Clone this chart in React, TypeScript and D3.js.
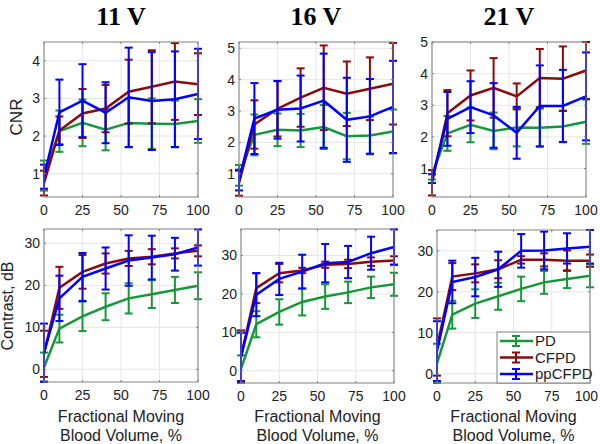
import React from "react";
import * as d3 from "d3";

// fractional moving blood volume, %
const fmbv = [0, 10, 25, 40, 55, 70, 85, 100];
const seriesNames = ["PD", "CFPD", "ppCFPD"];
const voltages = ["11 V", "16 V", "21 V"];
const xTicks = [0, 25, 50, 75, 100];

// CNR, 11 V
const cnr11PD = [0.95, 2.13, 2.35, 2.17, 2.35, 2.33, 2.32, 2.4];
const cnr11PDErr = [0.4, 0.55, 0.62, 0.55, 0.65, 0.67, 0.62, 0.58];
const cnr11CF = [0.75, 2.15, 2.6, 2.73, 3.18, 3.31, 3.45, 3.38];
const cnr11CFErr = [0.33, 0.37, 0.65, 0.63, 0.85, 0.97, 1.02, 0.82];
const cnr11PP = [0.92, 2.63, 2.94, 2.62, 3.03, 2.93, 2.98, 3.12];
const cnr11PPErr = [0.32, 0.87, 0.97, 0.81, 1.32, 1.3, 1.27, 1.2];

// CNR, 16 V
const cnr16PD = [0.95, 2.24, 2.4, 2.38, 2.49, 2.2, 2.22, 2.35];
const cnr16PDErr = [0.33, 0.65, 0.52, 0.53, 0.7, 0.74, 0.6, 0.7];
const cnr16CF = [0.7, 2.57, 3.07, 3.43, 3.74, 3.55, 3.71, 3.87];
const cnr16CFErr = [0.4, 0.77, 0.88, 0.93, 1.35, 1.03, 1.0, 1.3];
const cnr16PP = [0.8, 2.76, 3.04, 3.08, 3.33, 2.72, 2.83, 3.13];
const cnr16PPErr = [0.33, 1.13, 0.92, 1.05, 1.5, 1.34, 1.19, 1.47];

// CNR, 21 V
const cnr21PD = [0.8, 2.11, 2.38, 2.19, 2.3, 2.29, 2.33, 2.48];
const cnr21PDErr = [0.15, 0.55, 0.55, 0.58, 0.6, 0.6, 0.5, 0.7];
const cnr21CF = [0.55, 2.75, 3.31, 3.55, 3.28, 3.86, 3.84, 4.1];
const cnr21CFErr = [0.4, 0.73, 0.79, 0.94, 0.41, 0.92, 1.02, 0.9];
const cnr21PP = [0.68, 2.57, 2.94, 2.68, 2.13, 2.98, 2.98, 3.28];
const cnr21PPErr = [0.14, 0.85, 0.82, 1.02, 0.82, 1.28, 1.14, 1.39];

// Contrast (dB), 11 V
const con11PD = [0.5, 9.7, 12.6, 14.9, 16.9, 17.9, 18.9, 19.9];
const con11PDErr = [3.5, 3.3, 3.5, 3.2, 3.6, 3.3, 3.1, 3.2];
const con11CF = [3.7, 19.4, 23.2, 25.2, 26.4, 26.8, 27.6, 28.2];
const con11CFErr = [5.5, 5.0, 4.0, 2.4, 1.8, 1.8, 1.2, 1.3];
const con11PP = [4.0, 16.9, 22.0, 24.0, 25.9, 26.6, 27.4, 29.0];
const con11PPErr = [6.9, 5.4, 5.7, 5.0, 6.0, 5.2, 3.9, 4.3];

// Contrast (dB), 16 V
const con16PD = [0.5, 12.1, 15.3, 17.9, 19.3, 20.4, 21.7, 22.5];
const con16PDErr = [3.5, 3.4, 3.3, 3.5, 3.2, 2.8, 2.8, 3.0];
const con16CF = [3.7, 21.5, 25.4, 26.1, 27.6, 27.8, 28.4, 28.7];
const con16CFErr = [6.8, 3.9, 2.4, 0.7, 0.8, 1.1, 1.1, 1.1];
const con16PP = [3.6, 19.8, 23.9, 25.8, 28.0, 28.3, 30.6, 32.2];
const con16PPErr = [6.3, 5.6, 4.2, 4.4, 5.0, 4.2, 4.3, 4.6];

// Contrast (dB), 21 V
const con21PD = [2.5, 14.4, 17.1, 18.9, 20.7, 22.3, 23.1, 23.9];
const con21PDErr = [4.8, 3.4, 3.5, 3.3, 3.0, 2.8, 2.2, 2.8];
const con21CF = [6.5, 23.7, 24.5, 25.5, 27.8, 27.8, 27.6, 27.6];
const con21CFErr = [7.0, 3.3, 2.2, 2.2, 0.9, 1.6, 2.5, 1.5];
const con21PP = [5.5, 22.4, 23.6, 25.5, 30.0, 30.1, 30.6, 31.0];
const con21PPErr = [7.3, 5.2, 4.7, 4.3, 4.1, 4.6, 3.7, 4.1];

// y limits (axis tight) and ticks
const cnrLims = [[0.38, 4.5], [0.26, 5.2], [0.1, 5.0]];
const conLims = [[-3.0, 33.4], [-3.2, 36.9], [-2.3, 35.1]];
const cnrTicks = [[1, 2, 3, 4], [1, 2, 3, 4, 5], [1, 2, 3, 4, 5]];
const conTicks = [0, 10, 20, 30];

const colors = ["#17963a", "#8b0a0a", "#0000ff"];

// axes boxes in page pixels [left, right, top, bottom]
const boxes = [
  [44, 198, 42, 197], [239, 393, 42, 197], [432, 586, 42, 197],
  [44, 198, 229, 382], [241, 394, 229, 383], [437, 590, 230, 383],
];

const panels = [
  { lims: cnrLims[0], ticks: cnrTicks[0], s: [[cnr11PD, cnr11PDErr], [cnr11CF, cnr11CFErr], [cnr11PP, cnr11PPErr]] },
  { lims: cnrLims[1], ticks: cnrTicks[1], s: [[cnr16PD, cnr16PDErr], [cnr16CF, cnr16CFErr], [cnr16PP, cnr16PPErr]] },
  { lims: cnrLims[2], ticks: cnrTicks[2], s: [[cnr21PD, cnr21PDErr], [cnr21CF, cnr21CFErr], [cnr21PP, cnr21PPErr]] },
  { lims: conLims[0], ticks: conTicks, s: [[con11PD, con11PDErr], [con11CF, con11CFErr], [con11PP, con11PPErr]] },
  { lims: conLims[1], ticks: conTicks, s: [[con16PD, con16PDErr], [con16CF, con16CFErr], [con16PP, con16PPErr]] },
  { lims: conLims[2], ticks: conTicks, s: [[con21PD, con21PDErr], [con21CF, con21CFErr], [con21PP, con21PPErr]] },
];

const sans = "'Liberation Sans', Arial, sans-serif";
const serif = "'Liberation Serif', 'Times New Roman', serif";

const Panel = ({ p, box, idx }: any) => {
  const [x0, x1, y0, y1] = box;
  const x = d3.scaleLinear().domain([0, 100]).range([x0, x1]);
  const y = d3.scaleLinear().domain(p.lims).range([y1, y0]);
  const line = d3
    .line<number>()
    .x((_, i) => x(fmbv[i]))
    .y((d) => y(d));
  const cap = 4;
  const clipId = "clip" + idx;

  return (
    <g>
      <clipPath id={clipId}>
        <rect x={x0 - 6} y={y0 - 1} width={x1 - x0 + 12} height={y1 - y0 + 2} />
      </clipPath>
      {/* grid */}
      {xTicks.map((t) => (
        <line key={"gx" + t} x1={x(t)} x2={x(t)} y1={y0} y2={y1} stroke="#e6e6e6" />
      ))}
      {p.ticks.map((t: number) => (
        <line key={"gy" + t} x1={x0} x2={x1} y1={y(t)} y2={y(t)} stroke="#e6e6e6" />
      ))}
      {/* series */}
      <g clipPath={`url(#${clipId})`}>
        {p.s.map(([m, e]: number[][], si: number) => (
          <g key={si} stroke={colors[si]} fill="none">
            <path d={line(m) || ""} strokeWidth={2.5} />
            {m.map((v, i) => {
              const cx = x(fmbv[i]);
              const top = y(v + e[i]);
              const bot = y(v - e[i]);
              return (
                <g key={i} strokeWidth={2}>
                  <line x1={cx} x2={cx} y1={top} y2={bot} />
                  <line x1={cx - cap} x2={cx + cap} y1={top} y2={top} />
                  <line x1={cx - cap} x2={cx + cap} y1={bot} y2={bot} />
                </g>
              );
            })}
          </g>
        ))}
      </g>
      {/* box and ticks */}
      <rect x={x0} y={y0} width={x1 - x0} height={y1 - y0} fill="none" stroke="#808080" />
      {xTicks.map((t) => {
        // keep the last label inside the 600px page
        const atEdge = x(t) + 12 > 598;
        return (
          <g key={"tx" + t}>
            <line x1={x(t)} x2={x(t)} y1={y1} y2={y1 - 2} stroke="#808080" />
            <line x1={x(t)} x2={x(t)} y1={y0} y2={y0 + 2} stroke="#808080" />
            <text
              x={atEdge ? 598 : x(t)}
              y={y1 + 18}
              textAnchor={atEdge ? "end" : "middle"}
              fontSize={14}
              fontFamily={sans}
              fill="#222"
            >
              {t}
            </text>
          </g>
        );
      })}
      {p.ticks.map((t: number) => (
        <g key={"ty" + t}>
          <line x1={x0} x2={x0 + 2} y1={y(t)} y2={y(t)} stroke="#808080" />
          <line x1={x1} x2={x1 - 2} y1={y(t)} y2={y(t)} stroke="#808080" />
          <text x={x0 - 4} y={y(t) + 5} textAnchor="end" fontSize={14} fontFamily={sans} fill="#222">
            {t}
          </text>
        </g>
      ))}
    </g>
  );
};

const Legend = () => {
  const lx = 497;
  const ly = 332;
  return (
    <g>
      <rect x={lx} y={ly} width={93} height={51} fill="#fff" stroke="#808080" />
      {seriesNames.map((n, i) => {
        const cy = ly + 9 + i * 16.5;
        return (
          <g key={n} stroke={colors[i]}>
            <line x1={lx + 3} x2={lx + 36} y1={cy} y2={cy} strokeWidth={2.5} />
            <line x1={lx + 19} x2={lx + 19} y1={cy - 5} y2={cy + 5} strokeWidth={2} />
            <line x1={lx + 15} x2={lx + 23} y1={cy - 5} y2={cy - 5} strokeWidth={2} />
            <line x1={lx + 15} x2={lx + 23} y1={cy + 5} y2={cy + 5} strokeWidth={2} />
            <text x={lx + 38} y={cy + 5} fontSize={15} fontFamily={sans} fill="#222" stroke="none">
              {n}
            </text>
          </g>
        );
      })}
    </g>
  );
};

export default function App() {
  return (
    <svg
      width={600}
      height={444}
      style={{ position: "absolute", left: 0, top: 0, background: "#fff" }}
    >
      {voltages.map((v, i) => (
        <text
          key={v}
          x={(boxes[i][0] + boxes[i][1]) / 2}
          y={25}
          textAnchor="middle"
          fontSize={26}
          fontWeight="bold"
          fontFamily={serif}
        >
          {v}
        </text>
      ))}
      {panels.map((p, i) => (
        <Panel key={i} p={p} box={boxes[i]} idx={i} />
      ))}
      <text transform="translate(22,117) rotate(-90)" textAnchor="middle" fontSize={17} fontFamily={sans} fill="#222">
        CNR
      </text>
      <text transform="translate(13,306) rotate(-90)" textAnchor="middle" fontSize={16} fontFamily={sans} fill="#222">
        Contrast, dB
      </text>
      {[3, 4, 5].map((i) => (
        <text key={i} textAnchor="middle" fontSize={16} fontFamily={sans} fill="#222">
          <tspan x={(boxes[i][0] + boxes[i][1]) / 2} y={422}>Fractional Moving</tspan>
          <tspan x={(boxes[i][0] + boxes[i][1]) / 2} y={441}>Blood Volume, %</tspan>
        </text>
      ))}
      <Legend />
    </svg>
  );
}
